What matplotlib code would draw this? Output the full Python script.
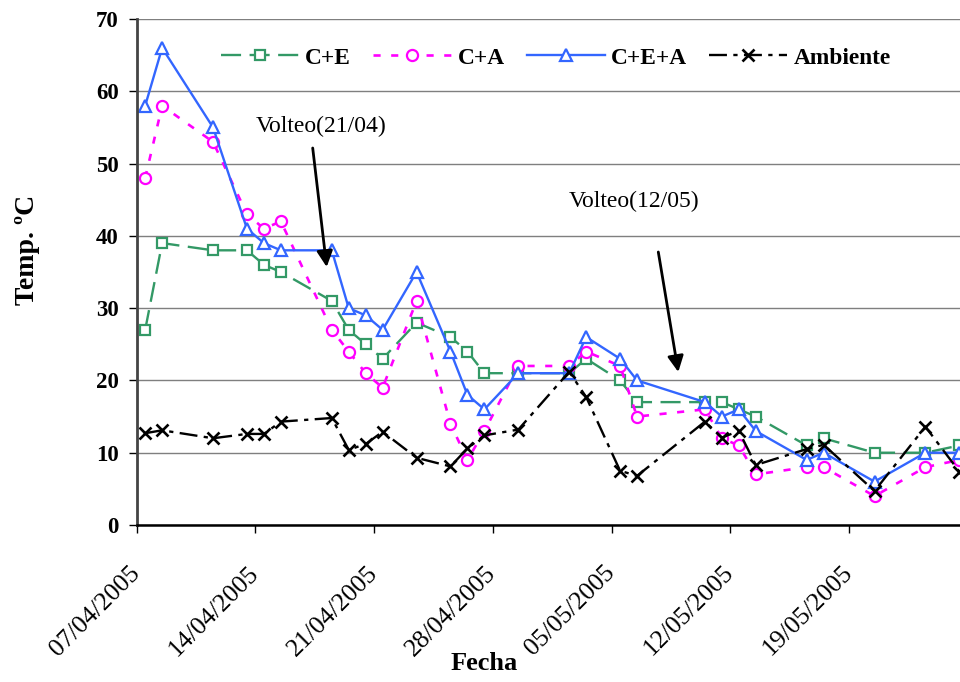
import matplotlib
matplotlib.use("Agg")
from matplotlib import pyplot as plt
import matplotlib.dates as mdates
import pandas as pd

plt.rcParams['font.family'] = ['Liberation Serif', 'DejaVu Serif']

fechas = ["07/04/2005", "08/04/2005", "11/04/2005", "13/04/2005", "14/04/2005",
          "15/04/2005", "18/04/2005", "19/04/2005", "20/04/2005", "21/04/2005",
          "23/04/2005", "25/04/2005", "26/04/2005", "27/04/2005", "29/04/2005",
          "02/05/2005", "03/05/2005", "05/05/2005", "06/05/2005", "10/05/2005",
          "11/05/2005", "12/05/2005", "13/05/2005", "16/05/2005", "17/05/2005",
          "20/05/2005", "23/05/2005", "25/05/2005"]

c_e = [27, 39, 38, 38, 36, 35, 31, 27, 25, 23, 28, 26, 24, 21, 21, 21, 23, 20,
       17, 17, 17, 16, 15, 11, 12, 10, 10, 11]
c_a = [48, 58, 53, 43, 41, 42, 27, 24, 21, 19, 31, 14, 9, 13, 22, 22, 24, 22,
       15, 16, 12, 11, 7, 8, 8, 4, 8, 9]
c_e_a = [58, 66, 55, 41, 39, 38, 38, 30, 29, 27, 35, 24, 18, 16, 21, 21, 26, 23,
         20, 17, 15, 16, 13, 9, 10, 6, 10, 10]
ambiente = [12.7, 13.1, 12.0, 12.6, 12.6, 14.3, 14.8, 10.4, 11.2, 12.9, 9.3, 8.1,
            10.6, 12.4, 13.2, 21.2, 17.7, 7.5, 6.8, 14.3, 12.1, 13.0, 8.3, 10.5,
            11.1, 4.7, 13.6, 7.4]

tick_fechas = ["07/04/2005", "14/04/2005", "21/04/2005", "28/04/2005",
               "05/05/2005", "12/05/2005", "19/05/2005"]

# Excel date axis: each day's point sits in the middle of its day
x = pd.to_datetime(fechas, format="%d/%m/%Y") + pd.Timedelta(hours=12)
ticks = pd.to_datetime(tick_fechas, format="%d/%m/%Y")

fig = plt.figure(figsize=(9.6, 6.82), dpi=100)
ax = fig.add_axes([136.7 / 960, 1 - 525 / 682, 1 - 136.7 / 960, (525 - 19) / 682])

ax.plot(x, c_e, color='#339966', lw=1.7, linestyle=(0, (8.5, 3.6)),
        marker='s', ms=7.5, mfc='white', mew=1.6, label='C+E', clip_on=False)
ax.plot(x, c_a, color='#FF00FF', lw=1.9, linestyle=(0, (2.7, 4)),
        marker='o', ms=8, mfc='white', mew=1.6, label='C+A', clip_on=False)
ax.plot(x, c_e_a, color='#3366FF', lw=1.7, linestyle='-',
        marker='^', ms=8.5, mfc='white', mew=1.6, label='C+E+A', clip_on=False)
ax.plot(x, ambiente, color='black', lw=1.7, linestyle=(0, (7.6, 2.7, 1.8, 2.7)),
        marker='x', ms=8.5, mew=1.9, label='Ambiente', clip_on=False)

ax.set_ylim(0, 70)
ax.set_yticks(range(0, 71, 10))
start = ticks[0]
ax.set_xlim(start, start + pd.Timedelta(days=48.54))
ax.set_xticks(ticks)
ax.xaxis.set_major_formatter(mdates.DateFormatter('%d/%m/%Y'))

ax.yaxis.grid(True, color='#7f7f7f', lw=1.0)
ax.set_axisbelow(True)
for s in ['top', 'right']:
    ax.spines[s].set_visible(False)
ax.spines['left'].set_linewidth(2.0)
ax.spines['left'].set_color('#444444')
ax.spines['bottom'].set_linewidth(1.8)

ax.tick_params(axis='y', length=6, width=1, pad=7, labelsize=16.5)
for lab in ax.get_yticklabels():
    lab.set_fontweight('bold')
ax.tick_params(axis='x', length=6, width=1, pad=26, labelsize=18.5)
for lab in ax.get_xticklabels():
    lab.set_rotation(45)
    lab.set_ha('right')
    lab.set_va('center')
    lab.set_rotation_mode('anchor')

fig.text(27 / 960, 1 - 250 / 682, 'Temp. ºC', rotation=90, ha='center', va='center',
         fontsize=20, fontweight='bold')
fig.text(484 / 960, 1 - 664 / 682, 'Fecha', ha='center', va='center',
         fontsize=19, fontweight='bold')

fig.legend(loc='center left', bbox_to_anchor=(221 / 960, 1 - 58 / 682), ncol=4,
           frameon=False, borderpad=0, borderaxespad=0, handlelength=3.35,
           handletextpad=0.26, columnspacing=0.95, numpoints=1,
           prop={'size': 16.8, 'weight': 'bold'})

fig.text(256 / 960, 1 - 126 / 682, 'Volteo(21/04)', ha='left', va='center', fontsize=17)
fig.text(569 / 960, 1 - 201 / 682, 'Volteo(12/05)', ha='left', va='center', fontsize=17)
arrow = dict(arrowstyle='-|>', lw=2, color='black', mutation_scale=24, shrinkA=0, shrinkB=0)
ax.annotate('', xy=(326.7 / 960, 1 - 267 / 682), xytext=(312.7 / 960, 1 - 148 / 682),
            xycoords='figure fraction', textcoords='figure fraction', arrowprops=arrow)
ax.annotate('', xy=(678.3 / 960, 1 - 372 / 682), xytext=(658.3 / 960, 1 - 252 / 682),
            xycoords='figure fraction', textcoords='figure fraction', arrowprops=arrow)

fig.savefig('out.png', dpi=100)
